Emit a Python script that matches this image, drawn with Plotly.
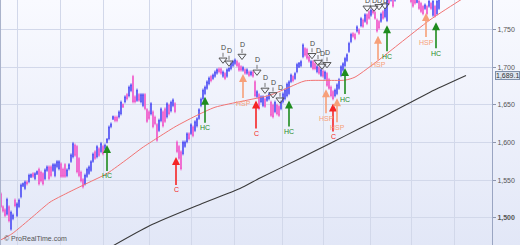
import plotly.graph_objects as go

# ---------------- data (daily OHLC, index = trading day) ----------------
opens = [
    1532, 1515, 1511, 1505, 1515, 1485, 1499, 1524, 1503, 1515,
    1528, 1542, 1539, 1548, 1548, 1554, 1559, 1552, 1558, 1565,
    1561, 1559, 1552, 1563, 1568, 1568, 1563, 1556, 1568, 1565,
    1572, 1565, 1571, 1556, 1565, 1575, 1581, 1597, 1595, 1579,
    1561, 1551, 1545, 1555, 1559, 1563, 1575, 1588, 1581, 1592,
    1588, 1595, 1592, 1600, 1605, 1621, 1631, 1634, 1634, 1634,
    1638, 1651, 1654, 1664, 1662, 1669, 1688, 1661, 1656, 1664,
    1654, 1649, 1664, 1644, 1641, 1638, 1641, 1634, 1624, 1616,
    1629, 1641, 1645, 1634, 1650, 1642, 1649, 1652, 1601, 1595,
    1588, 1585, 1595, 1601, 1612, 1612, 1621, 1616, 1622, 1632,
    1649, 1658, 1665, 1672, 1678, 1688, 1685, 1688, 1692, 1698,
    1698, 1688, 1692, 1688, 1695, 1698, 1702, 1705, 1708, 1705,
    1701, 1696, 1697, 1692, 1694, 1690, 1694, 1681, 1661, 1664,
    1654, 1649, 1658, 1656, 1658, 1654, 1650, 1641, 1650, 1648,
    1645, 1654, 1658, 1662, 1665, 1681, 1688, 1685, 1694, 1700,
    1702, 1714, 1725, 1724, 1714, 1701, 1708, 1705, 1694, 1700,
    1689, 1695, 1685, 1692, 1684, 1674, 1668, 1662, 1665, 1672,
    1689, 1696, 1702, 1709, 1721, 1734, 1745, 1744, 1748, 1750,
    1755, 1763, 1761, 1770, 1774, 1769, 1775, 1773, 1763, 1761,
    1761, 1774, 1767, 1762, 1796, 1789, 1793, 1789, 1794, 1797,
    1808, 1802, 1808, 1804, 1801, 1796, 1790, 1793, 1786, 1788,
    1785, 1781, 1778, 1781, 1781, 1785, 1769, 1781, 1771, 1778,
]
highs = [
    1534, 1517, 1513, 1527, 1517, 1510, 1506, 1526, 1521, 1526,
    1546, 1547, 1550, 1550, 1559, 1559, 1561, 1561, 1563, 1567,
    1563, 1561, 1566, 1570, 1570, 1570, 1573, 1573, 1577, 1577,
    1574, 1567, 1573, 1566, 1573, 1586, 1601, 1599, 1597, 1581,
    1563, 1553, 1559, 1567, 1570, 1577, 1587, 1590, 1597, 1594,
    1601, 1597, 1599, 1606, 1623, 1627, 1636, 1636, 1636, 1643,
    1656, 1652, 1663, 1666, 1676, 1679, 1690, 1663, 1672, 1666,
    1666, 1666, 1666, 1646, 1643, 1654, 1643, 1636, 1626, 1632,
    1647, 1643, 1647, 1654, 1652, 1656, 1659, 1654, 1603, 1597,
    1590, 1603, 1603, 1614, 1614, 1626, 1623, 1630, 1634, 1646,
    1660, 1672, 1676, 1683, 1688, 1690, 1692, 1696, 1699, 1700,
    1700, 1696, 1694, 1699, 1700, 1707, 1710, 1712, 1710, 1707,
    1703, 1702, 1699, 1699, 1696, 1696, 1696, 1683, 1670, 1666,
    1663, 1663, 1660, 1663, 1667, 1656, 1652, 1656, 1652, 1650,
    1656, 1667, 1672, 1680, 1683, 1692, 1690, 1694, 1706, 1707,
    1710, 1732, 1727, 1726, 1716, 1710, 1710, 1707, 1703, 1702,
    1699, 1697, 1696, 1694, 1686, 1676, 1670, 1672, 1679, 1686,
    1703, 1707, 1714, 1719, 1734, 1746, 1747, 1746, 1756, 1752,
    1767, 1765, 1772, 1772, 1776, 1778, 1777, 1775, 1765, 1763,
    1773, 1776, 1779, 1797, 1798, 1800, 1795, 1800, 1805, 1808,
    1810, 1812, 1810, 1806, 1803, 1798, 1792, 1795, 1793, 1790,
    1787, 1783, 1785, 1783, 1790, 1787, 1790, 1783, 1790, 1793,
]
lows = [
    1513, 1507, 1501, 1503, 1494, 1483, 1497, 1514, 1501, 1513,
    1526, 1541, 1537, 1543, 1546, 1553, 1553, 1550, 1557, 1543,
    1547, 1543, 1550, 1561, 1550, 1554, 1561, 1554, 1566, 1563,
    1553, 1553, 1553, 1554, 1563, 1573, 1579, 1581, 1559, 1554,
    1547, 1539, 1543, 1553, 1557, 1561, 1573, 1577, 1579, 1581,
    1586, 1583, 1590, 1599, 1603, 1619, 1630, 1627, 1627, 1632,
    1636, 1646, 1652, 1656, 1660, 1667, 1652, 1652, 1654, 1654,
    1652, 1647, 1643, 1626, 1630, 1636, 1619, 1623, 1601, 1614,
    1627, 1620, 1626, 1632, 1636, 1640, 1647, 1639, 1586, 1577,
    1563, 1583, 1593, 1599, 1603, 1610, 1607, 1614, 1620, 1630,
    1647, 1656, 1663, 1670, 1676, 1680, 1683, 1686, 1690, 1692,
    1690, 1686, 1683, 1686, 1694, 1696, 1700, 1703, 1700, 1694,
    1694, 1694, 1690, 1690, 1687, 1688, 1686, 1660, 1659, 1643,
    1652, 1647, 1646, 1654, 1656, 1634, 1632, 1639, 1636, 1634,
    1643, 1652, 1656, 1660, 1663, 1679, 1680, 1683, 1692, 1699,
    1700, 1712, 1714, 1710, 1706, 1699, 1696, 1696, 1692, 1690,
    1687, 1686, 1683, 1674, 1670, 1660, 1656, 1660, 1663, 1670,
    1687, 1694, 1700, 1707, 1719, 1732, 1739, 1736, 1746, 1743,
    1753, 1752, 1759, 1756, 1763, 1767, 1770, 1763, 1746, 1750,
    1759, 1763, 1765, 1760, 1783, 1787, 1779, 1787, 1792, 1795,
    1798, 1800, 1797, 1795, 1792, 1785, 1779, 1783, 1785, 1776,
    1772, 1769, 1776, 1769, 1779, 1776, 1767, 1766, 1769, 1776,
]
closes = [
    1515, 1509, 1503, 1525, 1496, 1508, 1504, 1516, 1519, 1524,
    1544, 1546, 1548, 1545, 1557, 1558, 1555, 1559, 1562, 1545,
    1549, 1545, 1564, 1568, 1552, 1556, 1571, 1571, 1575, 1575,
    1555, 1555, 1555, 1564, 1571, 1584, 1599, 1583, 1561, 1556,
    1549, 1541, 1557, 1565, 1568, 1575, 1585, 1579, 1595, 1583,
    1599, 1585, 1597, 1605, 1621, 1625, 1635, 1629, 1629, 1641,
    1654, 1647, 1661, 1658, 1674, 1677, 1654, 1654, 1670, 1656,
    1664, 1664, 1645, 1628, 1632, 1652, 1621, 1625, 1603, 1630,
    1645, 1622, 1628, 1652, 1638, 1654, 1657, 1641, 1588, 1579,
    1565, 1601, 1601, 1612, 1605, 1624, 1609, 1628, 1632, 1644,
    1658, 1670, 1674, 1681, 1686, 1682, 1690, 1694, 1697, 1694,
    1692, 1694, 1685, 1697, 1699, 1705, 1708, 1710, 1702, 1696,
    1696, 1700, 1692, 1697, 1689, 1694, 1688, 1662, 1668, 1645,
    1661, 1661, 1648, 1661, 1665, 1636, 1634, 1654, 1638, 1636,
    1654, 1665, 1670, 1678, 1681, 1690, 1682, 1692, 1704, 1706,
    1708, 1730, 1716, 1712, 1708, 1708, 1698, 1698, 1701, 1692,
    1697, 1688, 1694, 1676, 1672, 1662, 1658, 1670, 1677, 1684,
    1701, 1705, 1712, 1717, 1732, 1744, 1741, 1738, 1754, 1745,
    1765, 1754, 1770, 1758, 1765, 1776, 1772, 1765, 1748, 1752,
    1771, 1765, 1777, 1795, 1785, 1798, 1781, 1798, 1803, 1806,
    1800, 1810, 1799, 1797, 1794, 1787, 1781, 1785, 1792, 1778,
    1774, 1771, 1783, 1771, 1788, 1778, 1788, 1768, 1788, 1791,
]
bar_index = list(range(len(opens)))

# moving averages (knots)
ma_short_x = [0, 5.5, 16, 24.5, 33, 43, 53, 63.5, 70.5, 78, 87, 97, 107,
              120.5, 134.5, 144.5, 152, 172, 177, 189.5, 199.5, 214.5, 229.5, 232.5]
ma_short_y = [1471, 1479, 1502, 1521, 1533, 1546, 1559, 1579, 1593, 1606, 1621, 1635, 1647,
              1655, 1663, 1674, 1682, 1683, 1687, 1711, 1732, 1763, 1789, 1794]
ma_long_x = [52, 74.5, 99.5, 119.5, 129.5, 149.5, 164.5, 179.5, 194.5, 214.5, 232.5]
ma_long_y = [1457, 1490, 1518, 1539, 1553, 1579, 1599, 1619, 1639, 1667, 1689.1]
ma_long_last = 1689.1

# signals
hc_x = [53, 102, 144, 172, 193, 217.5]
hc_y = [1597, 1661, 1656, 1699, 1756, 1760]
c_x = [87.5, 127.5, 166]
c_y = [1581, 1656, 1652]
hsp_x = [121, 162.5, 168, 188.5, 212.5]
hsp_y = [1691, 1671, 1659, 1742, 1772]
d_x = [111, 114, 120.5, 128, 132, 136, 139.5, 155.5, 158.5, 160.5, 163, 183, 186.5, 189, 192]
d_y = [1710, 1706, 1715, 1694, 1670, 1664, 1657, 1716, 1707, 1702, 1704, 1779, 1779, 1781, 1782]

# axis
month_starts = [8, 29.5, 51, 74, 95, 116.5, 140.5, 161, 184.5, 205, 226.5]
y_ticks = [1500, 1550, 1600, 1650, 1700, 1750]
y_tick_text = ["<b>1,500</b>", "1,550", "1,600", "1,650", "1,700", "1,750"]
x_range = [-0.5, 245.5]
y_range = [1464.1, 1789.4]

FONT = "Liberation Sans, Arial, sans-serif"
BLUE = "#4444f4"
PINK = "#f04cc6"
GREEN = "#1f8c1f"
RED = "#f52525"
ORANGE = "#f7a079"
LABEL_OFFSET = {"HC": 31, "C": 33, "HSP": 29}

fig = go.Figure()

# background gradient (own subplot underneath)
fig.add_trace(go.Scatter(
    x=[0, 1, 1, 0, 0], y=[0, 0, 1, 1, 0], xaxis="x", yaxis="y",
    mode="lines", line=dict(width=0), fill="toself",
    fillgradient=dict(type="vertical", colorscale=[[0, "#e2e7f7"], [1, "#f9faff"]]),
    hoverinfo="skip", showlegend=False))

fig.add_trace(go.Scatter(
    x=ma_long_x, y=ma_long_y, xaxis="x2", yaxis="y2", mode="lines",
    line=dict(color="#3a3a3a", width=1.1, shape="spline", smoothing=0.6),
    hoverinfo="skip", showlegend=False))
fig.add_trace(go.Scatter(
    x=ma_short_x, y=ma_short_y, xaxis="x2", yaxis="y2", mode="lines",
    line=dict(color="#f27373", width=1, shape="spline", smoothing=0.6),
    hoverinfo="skip", showlegend=False))

fig.add_trace(go.Candlestick(
    x=bar_index, open=opens, high=highs, low=lows, close=closes,
    xaxis="x2", yaxis="y2",
    increasing=dict(line=dict(color=BLUE, width=0.7), fillcolor="rgba(110,110,245,0.75)"),
    decreasing=dict(line=dict(color=PINK, width=0.7), fillcolor="rgba(242,110,210,0.75)"),
    whiskerwidth=0, showlegend=False, hoverinfo="skip"))

fig.add_trace(go.Scatter(
    x=d_x, y=d_y, xaxis="x2", yaxis="y2", mode="markers",
    marker=dict(symbol="triangle-down-open", size=7, color="#555555",
                line=dict(width=1, color="#555555")),
    hoverinfo="skip", showlegend=False))

annotations = []
for xs, ys, label, col in [(hc_x, hc_y, "HC", GREEN), (c_x, c_y, "C", RED),
                           (hsp_x, hsp_y, "HSP", ORANGE)]:
    for xv, yv in zip(xs, ys):
        annotations.append(dict(
            x=xv, y=yv, xref="x2", yref="y2", text=label, showarrow=True,
            arrowhead=2, arrowsize=1, arrowwidth=1.6, arrowcolor=col,
            ax=0, ay=LABEL_OFFSET[label], standoff=0,
            font=dict(family=FONT, size=7, color=col)))
for xv, yv in zip(d_x, d_y):
    annotations.append(dict(
        x=xv, y=yv, xref="x2", yref="y2", text="D", showarrow=True,
        arrowhead=0, arrowwidth=0.8, arrowcolor="#555555",
        ax=0, ay=-12, standoff=3,
        font=dict(family=FONT, size=7, color="#444444")))

annotations.append(dict(
    x=492 / 520, y=ma_long_last, xref="paper", yref="y2", xanchor="left",
    xshift=3, text="1,689.1", showarrow=False,
    bgcolor="#dde4ef", bordercolor="#7f90aa", borderwidth=1, borderpad=0,
    font=dict(family=FONT, size=7, color="#333333")))
annotations.append(dict(
    x=0.004, y=0.004, xref="paper", yref="paper", xanchor="left", yanchor="bottom",
    text="© ProRealTime.com", showarrow=False,
    font=dict(family=FONT, size=7, color="#555555")))

fig.update_layout(
    width=520, height=245,
    margin=dict(l=0, r=0, t=0, b=0),
    paper_bgcolor="#eef1fb", plot_bgcolor="rgba(0,0,0,0)",
    showlegend=False,
    xaxis=dict(domain=[0, 1], range=[0, 1], visible=False, fixedrange=True),
    yaxis=dict(domain=[0, 1], range=[0, 1], visible=False, fixedrange=True),
    xaxis2=dict(domain=[0, 492 / 520], range=x_range, anchor="y2",
                tickvals=month_starts, showticklabels=False, ticks="",
                showgrid=True, gridcolor="#d2d8ea", gridwidth=1,
                zeroline=False, rangeslider=dict(visible=False), showline=False),
    yaxis2=dict(domain=[0, 1], range=y_range, anchor="x2", side="right",
                tickvals=y_ticks, ticktext=y_tick_text, ticks="outside",
                ticklen=3, tickcolor="#8d96ad", showgrid=True, gridcolor="#d2d8ea",
                gridwidth=1, zeroline=False, showline=True, linecolor="#9aa5c2",
                linewidth=1, tickfont=dict(family=FONT, size=7, color="#555555")),
    annotations=annotations,
    shapes=[dict(type="line", xref="paper", yref="paper", x0=0.001, x1=0.001,
                 y0=0, y1=1, line=dict(color="#a9b2cb", width=1))],
)

fig.write_html("out.html", config={"displayModeBar": False})
